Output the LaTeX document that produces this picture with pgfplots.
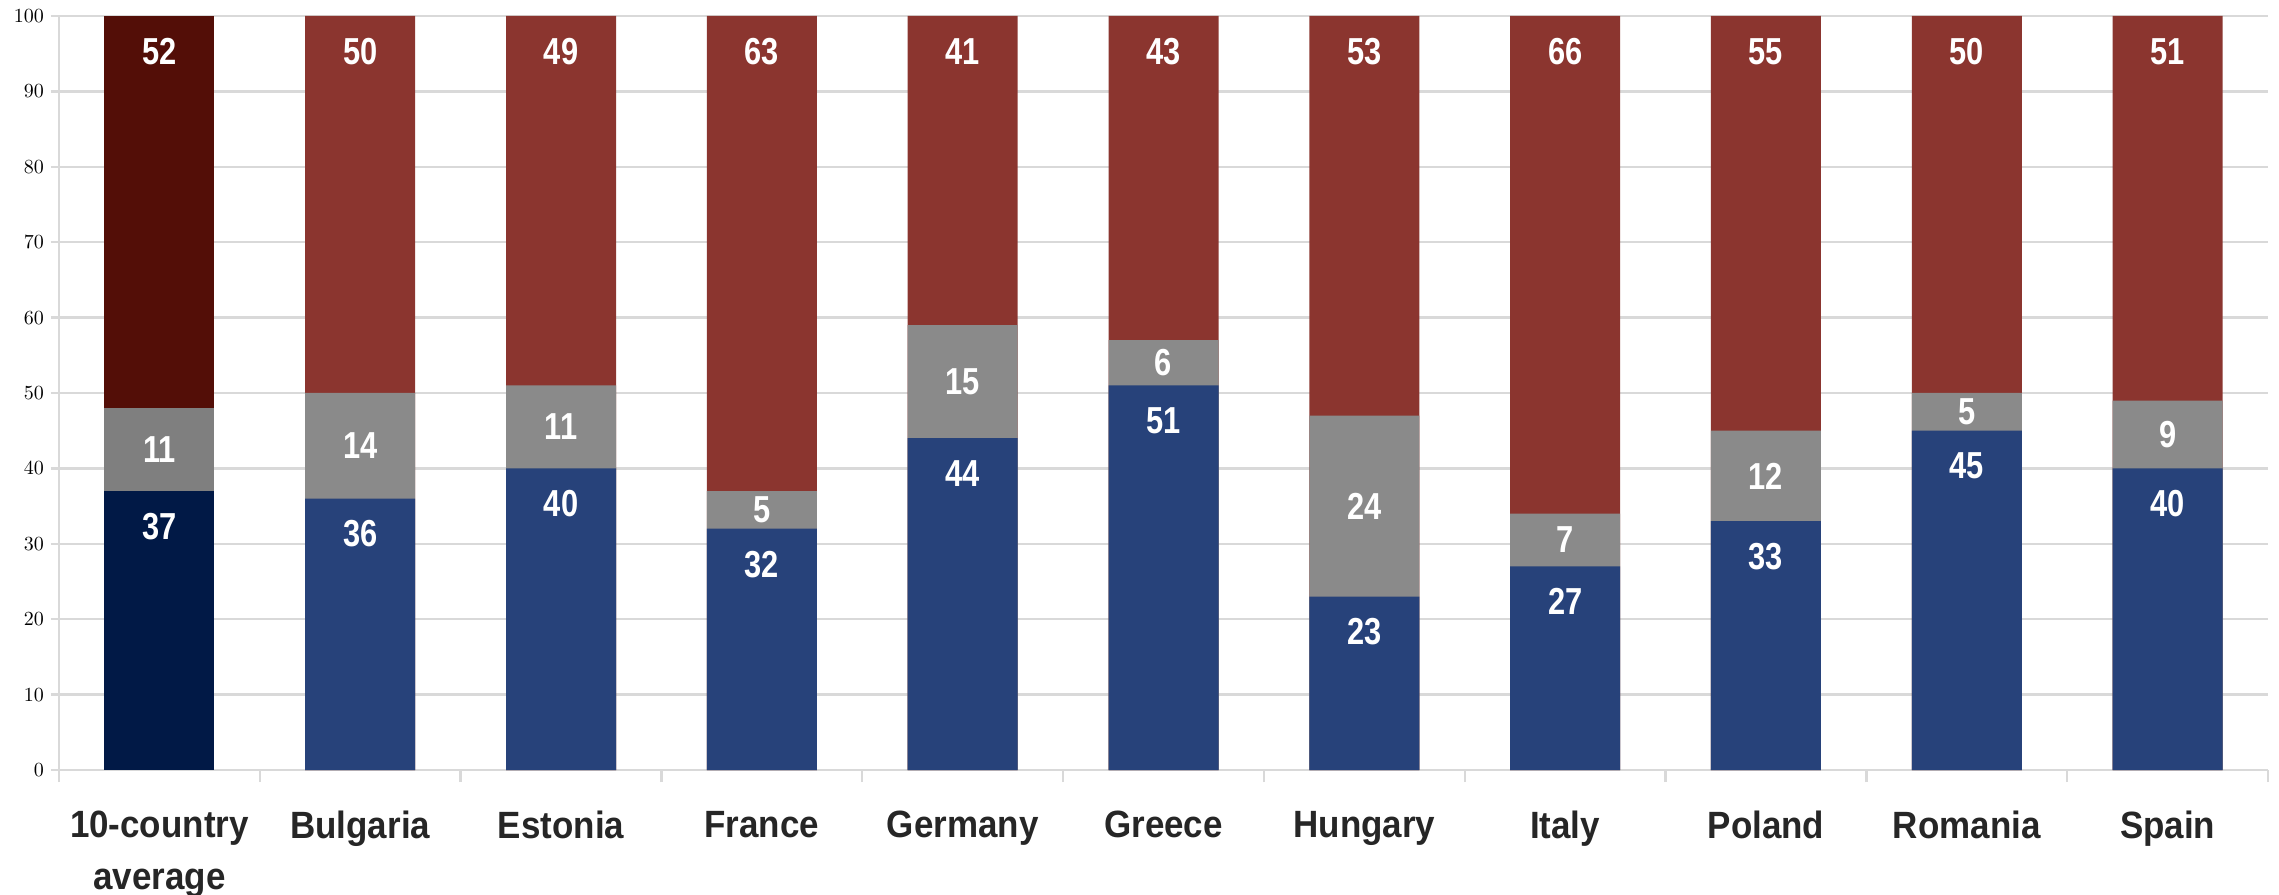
\documentclass[border=0pt]{standalone}
\usepackage{pgfplots}
\pgfplotsset{compat=1.18}
\usepackage{pgfplotstable}
\usepackage{fontspec}
\newfontfamily\catfont[FakeStretch=0.92]{Liberation Sans}
\newfontfamily\valfont[FakeStretch=0.82]{Liberation Sans}
\definecolor{avgblue}{HTML}{011946}
\definecolor{avggray}{HTML}{7F7F7F}
\definecolor{avgred}{HTML}{530E07}
\definecolor{cblue}{HTML}{27427A}
\definecolor{cgray}{HTML}{8A8A8A}
\definecolor{cred}{HTML}{8B352F}
\definecolor{gridc}{HTML}{D9D9D9}
\definecolor{labc}{HTML}{262626}

\pgfplotstableread{
x blue gray red
0 37 11 52
}\avgdata
\pgfplotstableread{
x blue gray red
1 36 14 50
2 40 11 49
3 32 5 63
4 44 15 41
5 51 6 43
6 23 24 53
7 27 7 66
8 33 12 55
9 45 5 50
10 40 9 51
}\ctrydata

\begin{document}
\begin{tikzpicture}
\begin{axis}[
  name=ax,
  scale only axis, width=1104.5pt, height=377pt,
  xmin=-0.5, xmax=10.5, ymin=0, ymax=100,
  axis x line*=bottom, axis y line*=left,
  axis line style={draw=gridc, line width=1.2pt},
  ytick={0,10,...,100},
  ymajorgrids, grid style={draw=gridc, line width=1.2pt},
  tick align=outside,
  major tick length=4pt, minor tick length=6pt,
  every major tick/.append style={draw=gridc, line width=1.2pt},
  xtick={0,1,...,10},
  major x tick style={draw=none},
  minor xtick={-0.5,0.5,...,10.5},
  minor x tick style={draw=gridc, line width=1.2pt},
  xticklabels={{10-country\\average},Bulgaria,Estonia,France,Germany,Greece,Hungary,Italy,Poland,Romania,Spain},
  xticklabel style={align=center, font=\catfont\bfseries\fontsize{19}{26}\selectfont, text=labc, yshift=-13pt},
  yticklabel style={font=\fontsize{10}{12}\selectfont, text=black},
  bar width=55pt,
  nodes near coords align=center,
  every node near coord/.append style={font=\valfont\bfseries\fontsize{18.8}{20}\selectfont, text=white},
]
% country bars (drawn as overlapping cumulative bars)
\addplot[ybar, bar width=55pt, fill=cred, draw=none] table[x=x, y expr=\thisrow{blue}+\thisrow{gray}+\thisrow{red}] {\ctrydata};
\addplot[ybar, bar width=55pt, fill=cgray, draw=none] table[x=x, y expr=\thisrow{blue}+\thisrow{gray}] {\ctrydata};
\addplot[ybar, bar width=55pt, fill=cblue, draw=none] table[x=x, y=blue] {\ctrydata};
% average bar
\addplot[ybar, bar width=55pt, fill=avgred, draw=none] table[x=x, y expr=\thisrow{blue}+\thisrow{gray}+\thisrow{red}] {\avgdata};
\addplot[ybar, bar width=55pt, fill=avggray, draw=none] table[x=x, y expr=\thisrow{blue}+\thisrow{gray}] {\avgdata};
\addplot[ybar, bar width=55pt, fill=avgblue, draw=none] table[x=x, y=blue] {\avgdata};
% value labels
\addplot[draw=none, mark=none, nodes near coords, point meta=explicit symbolic] table[x=x, y expr=\thisrow{blue}-4.7, meta=blue] {\ctrydata};
\addplot[draw=none, mark=none, nodes near coords, point meta=explicit symbolic] table[x=x, y expr=\thisrow{blue}+\thisrow{gray}/2, meta=gray] {\ctrydata};
\addplot[draw=none, mark=none, nodes near coords, point meta=explicit symbolic] table[x=x, y expr=\thisrow{blue}+\thisrow{gray}+\thisrow{red}-4.7, meta=red] {\ctrydata};
\addplot[draw=none, mark=none, nodes near coords, point meta=explicit symbolic] table[x=x, y expr=\thisrow{blue}-4.7, meta=blue] {\avgdata};
\addplot[draw=none, mark=none, nodes near coords, point meta=explicit symbolic] table[x=x, y expr=\thisrow{blue}+\thisrow{gray}/2, meta=gray] {\avgdata};
\addplot[draw=none, mark=none, nodes near coords, point meta=explicit symbolic] table[x=x, y expr=\thisrow{blue}+\thisrow{gray}+\thisrow{red}-4.7, meta=red] {\avgdata};
\end{axis}
\pgfresetboundingbox
\path[use as bounding box] (ax.south west) ++(-29.5pt,-62pt) rectangle ++(1139.5pt,447pt);
\end{tikzpicture}
\end{document}
